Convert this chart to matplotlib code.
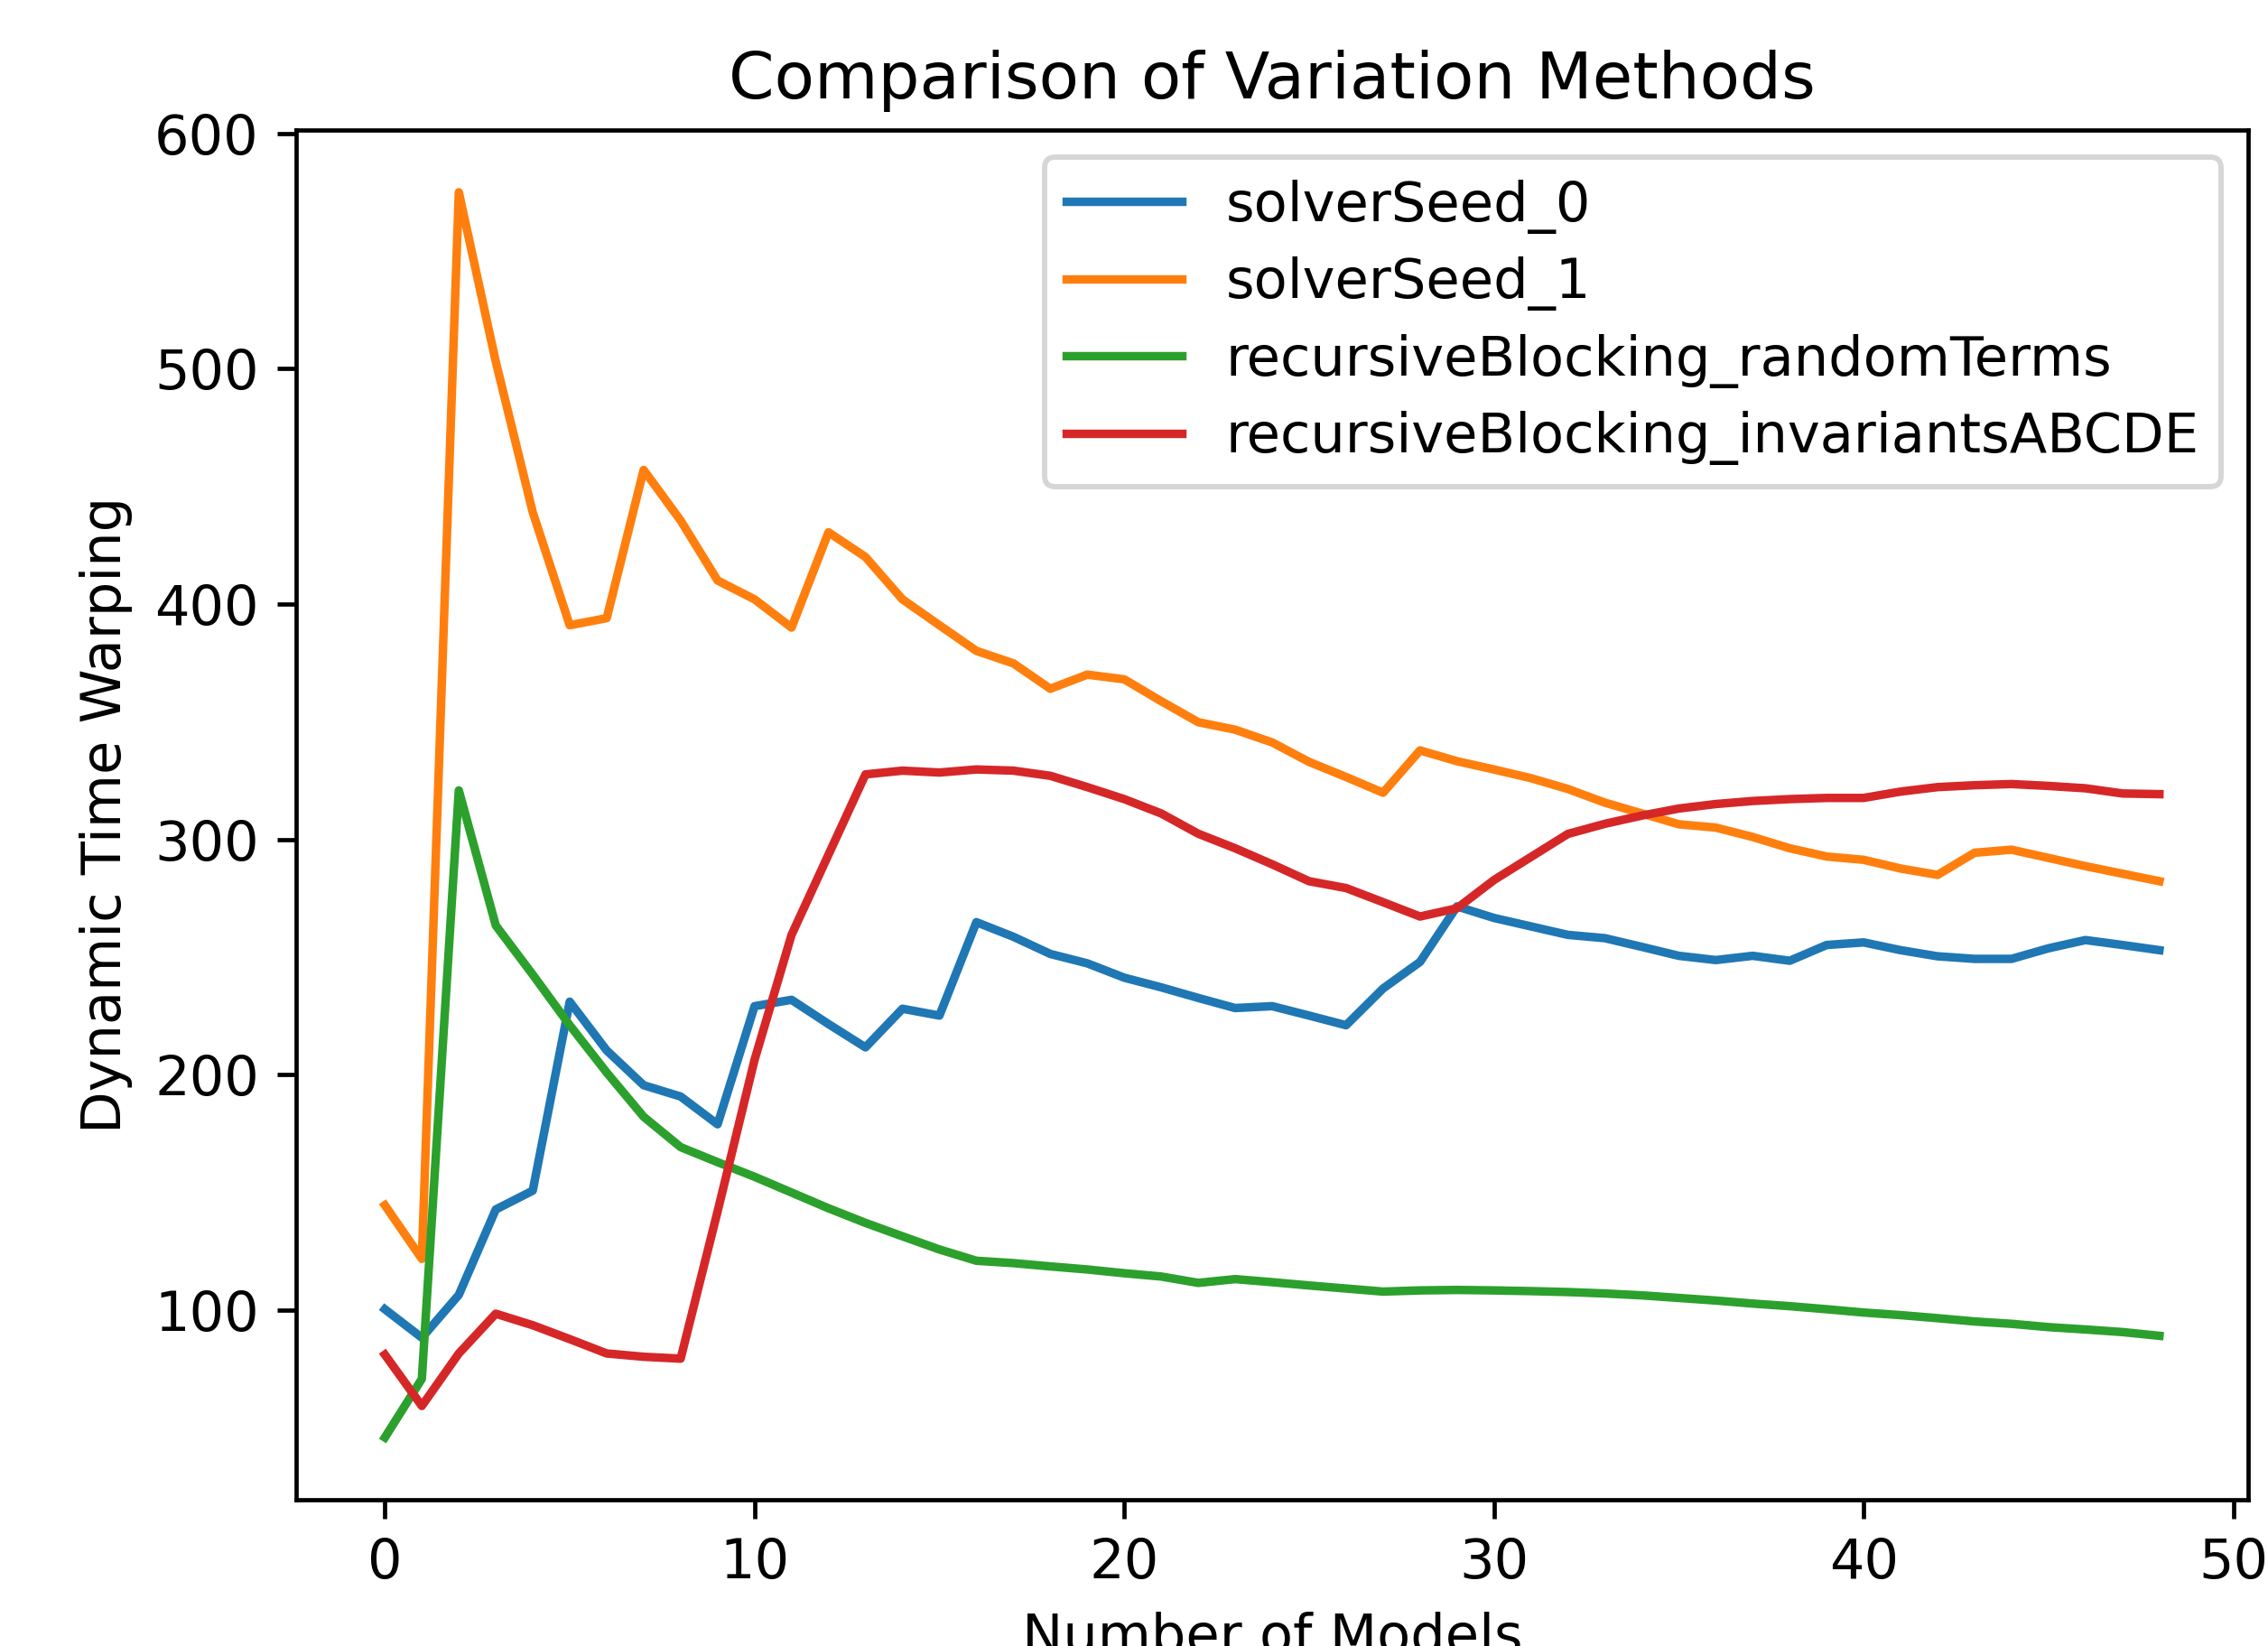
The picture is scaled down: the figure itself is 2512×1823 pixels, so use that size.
import matplotlib
matplotlib.use("Agg")
import matplotlib.pyplot as plt

models = list(range(49))

solver_seed_0 = [
    100.3, 88.2, 106.4, 142.7, 150.7, 231.0, 210.3, 195.5, 190.7, 178.9,
    229.1, 231.8, 221.5, 211.6, 228.0, 225.1, 264.8, 258.6, 251.3, 247.3,
    241.2, 237.1, 232.6, 228.3, 229.1, 225.1, 221.0, 236.6, 247.9, 271.5,
    266.6, 263.0, 259.4, 258.0, 254.3, 250.5, 248.7, 250.5, 248.4, 255.1,
    256.2, 252.9, 250.3, 249.2, 249.2, 253.7, 257.2, 255.1, 252.9,
]
solver_seed_1 = [
    144.5, 121.7, 575.0, 503.0, 439.0, 391.0, 394.0, 457.0, 435.5, 410.0,
    402.0, 390.0, 430.5, 420.0, 402.0, 391.0, 380.1, 374.8, 364.0, 370.0,
    368.0, 358.7, 349.8, 346.6, 341.2, 332.9, 326.5, 319.8, 337.8, 333.2,
    329.7, 326.0, 321.4, 315.6, 311.0, 306.4, 305.0, 301.0, 296.2, 292.7,
    291.3, 287.6, 284.9, 294.3, 295.6, 292.1, 288.6, 285.4, 282.2,
]
random_terms = [
    45.8, 70.7, 320.8, 263.4, 242.5, 221.0, 200.9, 182.1, 169.2, 162.8,
    156.6, 149.9, 143.2, 137.0, 131.3, 125.7, 120.9, 119.9, 118.5, 117.2,
    115.6, 114.2, 111.5, 113.1, 111.8, 110.4, 109.1, 107.8, 108.3, 108.5,
    108.3, 108.0, 107.6, 107.0, 106.2, 105.1, 104.0, 102.7, 101.6, 100.3,
    98.9, 97.8, 96.5, 95.1, 94.1, 92.7, 91.7, 90.6, 89.0,
]
invariants_abcde = [
    81.0, 59.2, 81.5, 98.4, 93.5, 87.6, 81.5, 80.1, 79.3, 141.9,
    206.3, 259.4, 293.5, 327.6, 329.2, 328.4, 329.7, 329.2, 327.0, 322.2,
    317.1, 311.0, 302.4, 296.2, 289.4, 282.2, 279.3, 273.3, 267.2, 270.7,
    282.7, 292.5, 302.3, 306.6, 310.1, 313.1, 315.0, 316.3, 317.1, 317.6,
    317.6, 320.3, 322.2, 323.0, 323.5, 322.7, 321.7, 319.5, 319.2,
]

series = [
    ("solverSeed_0", solver_seed_0),
    ("solverSeed_1", solver_seed_1),
    ("recursiveBlocking_randomTerms", random_terms),
    ("recursiveBlocking_invariantsABCDE", invariants_abcde),
]

DPI = 424
fig = plt.figure(figsize=(2512 / DPI, 1823 / DPI), dpi=DPI)
ax = fig.add_axes([328 / 2512, 1 - 1661 / 1823, 2162 / 2512, 1517 / 1823])
for name, vals in series:
    ax.plot(models, vals, label=name, linewidth=1.6)

ax.set_title("Comparison of Variation Methods", fontsize=12.3)
ax.set_xlabel("Number of Models", fontsize=10.3)
ax.set_ylabel("Dynamic Time Warping", fontsize=10.3)
ax.tick_params(labelsize=10.3)
ax.legend(loc="upper right", fontsize=10.3, handlelength=2.1, labelspacing=0.42)

fig.savefig("out.png", dpi=DPI)
